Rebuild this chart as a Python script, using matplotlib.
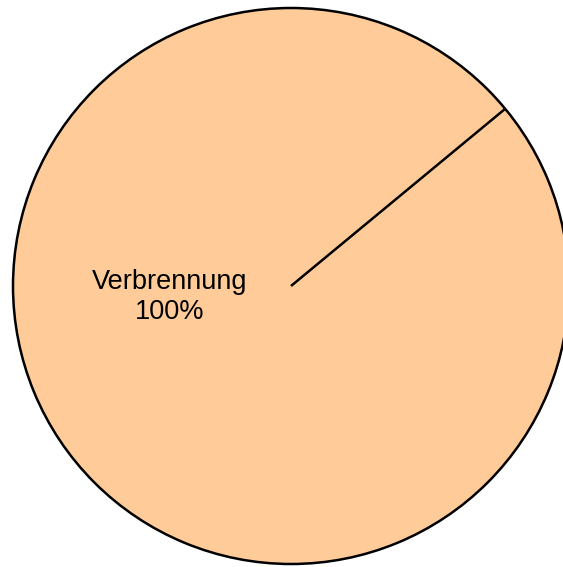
import numpy as np
import matplotlib.pyplot as plt

labels = ['Verbrennung']
values = [100]
start_angle = 39.6

plt.rcParams['font.family'] = ['Liberation Sans', 'DejaVu Sans']

fig = plt.figure(figsize=(5.63, 5.67), dpi=100)
# circle centre (291, 286) px, radius 278 px
cx, cy, r = 291, 286, 278
W, H = 563, 567
ax = fig.add_axes([(cx - r) / W, (H - cy - r) / H, 2 * r / W, 2 * r / H])

wedges, _ = ax.pie(values, startangle=start_angle, colors=['#FFCC99'],
                   wedgeprops=dict(edgecolor='black', linewidth=1.8),
                   radius=1, center=(0, 0))
for w in wedges:
    w.set_clip_on(False)

# boundary line of the single slice
a = np.deg2rad(start_angle)
ax.plot([0, np.cos(a)], [0, np.sin(a)], color='black', lw=1.8,
        solid_capstyle='butt', clip_on=False)

pct = values[0] / sum(values) * 100
ax.text(-0.437, -0.04, '%s\n%d%%' % (labels[0], pct), ha='center', va='center',
        fontsize=19.5, linespacing=1.2)

ax.set_xlim(-1, 1)
ax.set_ylim(-1, 1)
ax.set_aspect('auto')
ax.axis('off')

fig.savefig('out.png', dpi=100)
